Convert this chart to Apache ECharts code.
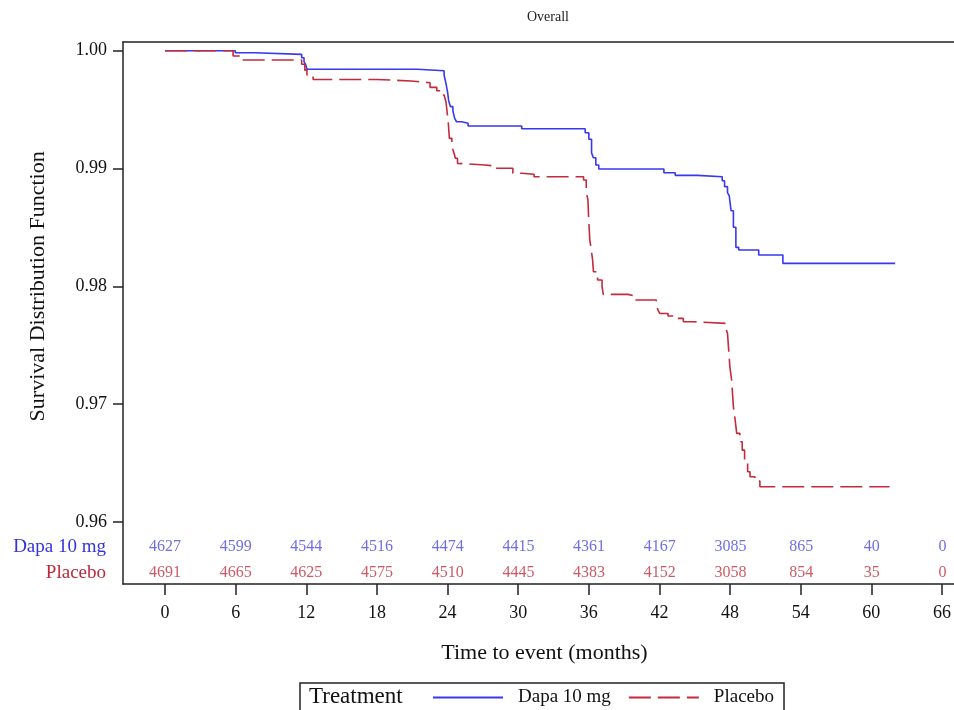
<!DOCTYPE html>
<html>
<head>
<meta charset="utf-8">
<script src="https://cdn.jsdelivr.net/npm/echarts@6/dist/echarts.min.js"></script>
<style>
  html, body { margin: 0; padding: 0; background: #fff; }
  #chart { width: 954px; height: 710px; }
</style>
</head>
<body>
<div id="chart"></div>
<script>
// KM curve, overall population
const dapaTime = [0, 5.97, 7.6, 11.6, 11.8, 11.95, 12.05, 21.4, 23.69, 23.85, 23.99, 24.08, 24.23, 24.44, 24.59, 24.75, 25.19, 25.73, 30.28, 35.67, 35.98, 36.21, 36.36, 36.57, 36.82, 42.35, 43.31, 45.2, 47.3, 47.5, 47.75, 47.9, 48.05, 48.25, 48.46, 48.7, 50.4, 52.45, 61.98];
const dapaSurv = [1, 0.99983, 0.99969, 0.9994, 0.99907, 0.99879, 0.99842, 0.9983, 0.99794, 0.99723, 0.99647, 0.99576, 0.99525, 0.99488, 0.99426, 0.99397, 0.99384, 0.99361, 0.99338, 0.99304, 0.99248, 0.99134, 0.99092, 0.9903, 0.98996, 0.98964, 0.98942, 0.9893, 0.98896, 0.98846, 0.98795, 0.98767, 0.98642, 0.98501, 0.98331, 0.98308, 0.98266, 0.98195, 0.98195];

const placeboTime = [0, 5.78, 6.37, 11.6, 11.87, 12.05, 12.57, 17.97, 20.9, 22.5, 23.07, 23.5, 23.69, 23.85, 23.93, 24.05, 24.14, 24.35, 24.5, 24.65, 24.83, 24.98, 27.14, 28.04, 29.53, 30.28, 31.33, 35.53, 35.76, 35.9, 35.97, 36.06, 36.15, 36.3, 36.37, 36.72, 37.1, 37.2, 39.3, 39.8, 41.7, 41.85, 42.0, 42.7, 43.2, 44.0, 44.8, 47.6, 47.75, 47.85, 47.95, 48.1, 48.25, 48.4, 48.53, 48.8, 49.0, 49.2, 49.46, 49.66, 50.08, 50.5, 61.5];
const placeboSurv = [1, 0.99955, 0.99921, 0.99885, 0.99835, 0.99794, 0.99756, 0.99743, 0.99728, 0.99689, 0.9966, 0.99624, 0.99615, 0.99567, 0.99497, 0.99384, 0.99256, 0.99185, 0.99143, 0.99087, 0.99044, 0.9903, 0.99021, 0.99002, 0.9896, 0.98951, 0.9893, 0.98902, 0.98803, 0.98733, 0.98563, 0.98393, 0.98336, 0.98223, 0.98124, 0.98054, 0.97997, 0.97932, 0.9792, 0.97884, 0.97841, 0.97799, 0.9777, 0.97748, 0.97728, 0.977, 0.97686, 0.97643, 0.97601, 0.97459, 0.97317, 0.97205, 0.96978, 0.96865, 0.96752, 0.96681, 0.9661, 0.96511, 0.96426, 0.96384, 0.96347, 0.96299, 0.96299];

// numbers at risk
const riskMonths = [0, 6, 12, 18, 24, 30, 36, 42, 48, 54, 60, 66];
const dapaAtRisk = [4627, 4599, 4544, 4516, 4474, 4415, 4361, 4167, 3085, 865, 40, 0];
const placeboAtRisk = [4691, 4665, 4625, 4575, 4510, 4445, 4383, 4152, 3058, 854, 35, 0];
const groups = ['Dapa 10 mg', 'Placebo'];

// axis ticks
const xTickMin = 0, xTickMax = 66, xTickStep = 6;
const yTickMin = 0.96, yTickMax = 1.00, yTickStep = 0.01;

// layout (pixels)
const W = 954, H = 710;
const FRAME_L = 123, FRAME_T = 42, FRAME_B = 584;   // frame runs off the right edge
const X0 = 165, X66 = 942.5;      // where month 0 and 66 sit
const Y100 = 50.7, Y096 = 522;    // where 1.00 and 0.96 sit

const BLUE = '#3838f0', RED = '#c42a3c';
const FONT = "'Liberation Serif', 'Times New Roman', serif";
const AXIS = {color: '#222', width: 1.5};

// frame is wider than the tick range; derive its data range from the tick range
const pxPerMonth = (X66 - X0) / (xTickMax - xTickMin);
const pxPerUnit = (Y096 - Y100) / (yTickMax - yTickMin);
const frameXMin = xTickMin - (X0 - FRAME_L) / pxPerMonth;
const frameXMax = xTickMax + (W - X66) / pxPerMonth;
const frameYMax = yTickMax + (Y100 - FRAME_T) / pxPerUnit;
const frameYMin = yTickMin - (FRAME_B - Y096) / pxPerUnit;

const zip = (a, b) => a.map((v, i) => [v, b[i]]);
const hidden = {show: false};

const chart = echarts.init(document.getElementById('chart'), null, {renderer: 'canvas'});

const option = {
    backgroundColor: '#fff',
    animation: false,
    textStyle: {fontFamily: FONT},
    title: {
        text: 'Overall',
        left: 543, top: 5, textAlign: 'center',
        textStyle: {fontFamily: FONT, fontSize: 14, fontWeight: 'normal', color: '#222'}
    },
    legend: {
        data: groups,
        left: 300, top: 683,
        padding: [5, 10, 10, 132],
        borderColor: '#222', borderWidth: 1.5,
        itemWidth: 70, itemHeight: 14, itemGap: 17,
        itemStyle: {opacity: 0},
        textStyle: {fontFamily: FONT, fontSize: 19, color: '#111', padding: [0, 0, 0, 10]}
    },
    graphic: [
        {type: 'text', left: 309, top: 685, style: {text: 'Treatment', font: '23px ' + FONT, fill: '#111'}}
    ],
    grid: [
        // frame holding the curves and the at-risk rows
        {left: FRAME_L, right: 0, top: FRAME_T, bottom: H - FRAME_B},
        // x ticks 0..66
        {left: X0, right: W - X66, top: FRAME_T, bottom: H - FRAME_B},
        // at-risk table
        {left: X0, right: W - X66, top: 534, height: 52},
        // y ticks 0.96..1.00
        {left: FRAME_L, right: 0, top: Y100, bottom: H - Y096}
    ],
    xAxis: [
        {gridIndex: 0, type: 'value', min: frameXMin, max: frameXMax, position: 'bottom',
         axisLine: {show: true, onZero: false, lineStyle: AXIS},
         axisTick: hidden, axisLabel: hidden, splitLine: hidden,
         name: 'Time to event (months)', nameLocation: 'middle', nameGap: 58,
         nameTextStyle: {fontFamily: FONT, fontSize: 22, color: '#111', padding: [0, 0, 0, 12]}},
        {gridIndex: 1, type: 'value', min: xTickMin, max: xTickMax, interval: xTickStep,
         position: 'bottom',
         axisLine: hidden, splitLine: hidden,
         axisTick: {show: true, length: 11, lineStyle: AXIS},
         axisLabel: {margin: 20, fontFamily: FONT, fontSize: 18, color: '#111'}},
        {gridIndex: 2, type: 'value', min: xTickMin, max: xTickMax, show: false},
        {gridIndex: 3, type: 'value', min: 0, max: 1, show: false},
        // top edge of the frame
        {gridIndex: 0, type: 'value', min: frameXMin, max: frameXMax, position: 'top',
         axisLine: {show: true, onZero: false, lineStyle: AXIS},
         axisTick: hidden, axisLabel: hidden, splitLine: hidden}
    ],
    yAxis: [
        {gridIndex: 0, type: 'value', min: frameYMin, max: frameYMax, position: 'left',
         axisLine: {show: true, onZero: false, lineStyle: AXIS},
         axisTick: hidden, axisLabel: hidden, splitLine: hidden},
        {gridIndex: 1, type: 'value', min: 0, max: 1, show: false},
        {gridIndex: 2, type: 'category', data: groups, inverse: true,
         axisLine: hidden, axisTick: hidden, splitLine: hidden,
         axisLabel: {margin: X0 - 106, fontFamily: FONT, fontSize: 19,
                     color: (v) => v === groups[0] ? '#3333e0' : '#c0283a'}},
        {gridIndex: 3, type: 'value', min: yTickMin, max: yTickMax, interval: yTickStep,
         position: 'left',
         axisLine: hidden, splitLine: hidden,
         axisTick: {show: true, length: 10, lineStyle: AXIS},
         axisLabel: {margin: 16, fontFamily: FONT, fontSize: 18, color: '#111',
                     formatter: v => v.toFixed(2)},
         name: 'Survival Distribution Function', nameLocation: 'middle', nameGap: 74,
         nameTextStyle: {fontFamily: FONT, fontSize: 22, color: '#111'}}
    ],
    series: [
        {name: groups[0], type: 'line', xAxisIndex: 0, yAxisIndex: 0, step: 'end',
         symbol: 'none', data: zip(dapaTime, dapaSurv),
         itemStyle: {color: BLUE},
         lineStyle: {color: BLUE, width: 1.6, type: 'solid'}},
        {name: groups[1], type: 'line', xAxisIndex: 0, yAxisIndex: 0, step: 'end',
         symbol: 'none', data: zip(placeboTime, placeboSurv),
         itemStyle: {color: RED},
         lineStyle: {color: RED, width: 1.6, type: [22, 7]}},
        {name: 'risk-dapa', type: 'scatter', xAxisIndex: 2, yAxisIndex: 2,
         symbolSize: 1, itemStyle: {color: 'rgba(0,0,0,0)'},
         data: riskMonths.map((m, i) => [m, groups[0], dapaAtRisk[i]]),
         label: {show: true, position: 'inside', formatter: p => p.value[2],
                 fontFamily: FONT, fontSize: 16, color: '#4a4ae0'}},
        {name: 'risk-placebo', type: 'scatter', xAxisIndex: 2, yAxisIndex: 2,
         symbolSize: 1, itemStyle: {color: 'rgba(0,0,0,0)'},
         data: riskMonths.map((m, i) => [m, groups[1], placeboAtRisk[i]]),
         label: {show: true, position: 'inside', formatter: p => p.value[2],
                 fontFamily: FONT, fontSize: 16, color: '#c0303e'}}
    ]
};

chart.setOption(option);
window.addEventListener('resize', () => chart.resize());
</script>
</body>
</html>
